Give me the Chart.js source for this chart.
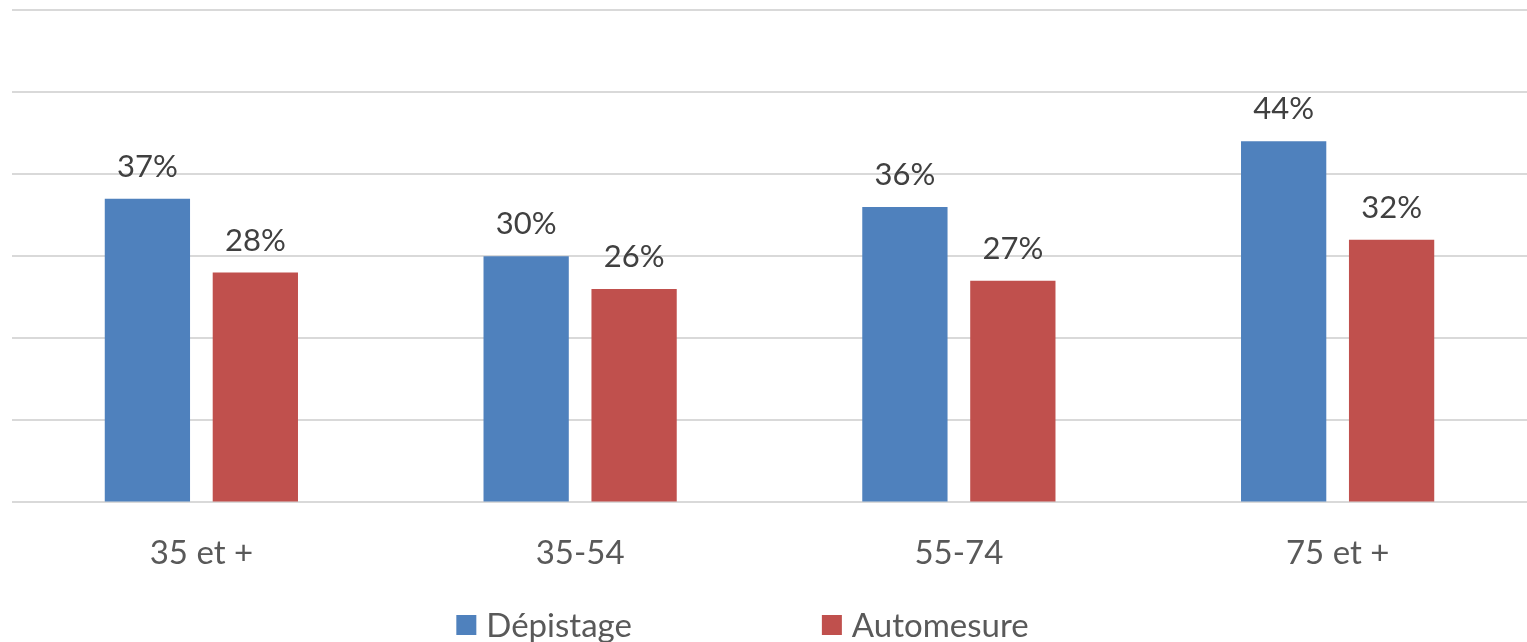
<!DOCTYPE html>
<html>
<head>
<meta charset="utf-8">
<script src="https://cdn.jsdelivr.net/npm/chart.js@4"></script>
<style>
  html, body { margin: 0; padding: 0; background: #fff; }
  #wrap { width: 1527px; height: 642px; }
</style>
</head>
<body>
<div id="wrap"><canvas id="myChart"></canvas></div>
<script>
// categories and values
var ageGroups = ["35 et +", "35-54", "55-74", "75 et +"];
var depistage = [37, 30, 36, 44];
var automesure = [28, 26, 27, 32];
var yTicks = [0, 10, 20, 30, 40, 50, 60];

var fontName = "Lato, 'Open Sans', sans-serif";

// value above each bar
var barLabels = {
    id: 'barLabels',
    afterDatasetsDraw(chart) {
        let ctx = chart.ctx;
        ctx.save();
        ctx.font = "31px " + fontName;
        ctx.fillStyle = "#404040";
        ctx.textAlign = "center";
        ctx.textBaseline = "alphabetic";
        chart.data.datasets.forEach((ds, i) => {
            let meta = chart.getDatasetMeta(i);
            meta.data.forEach((bar, j) => {
                ctx.fillText(ds.data[j] + "%", bar.x, bar.y - 22);
            });
        });
        ctx.restore();
    }
};

// legend drawn under the axis, with the wide gap of the original
var bottomLegend = {
    id: 'bottomLegend',
    afterDraw(chart) {
        let ctx = chart.ctx;
        ctx.save();
        ctx.font = "33px " + fontName;
        let box = 20, gap = 10, spacing = 190;
        let items = chart.data.datasets.map(ds => ({ text: ds.label, color: ds.backgroundColor, w: ctx.measureText(ds.label).width }));
        let total = 0;
        items.forEach((it, i) => { total += box + gap + it.w + (i ? spacing : 0); });
        let x = chart.width / 2 - 21 - total / 2;
        let y = 625;
        items.forEach(it => {
            ctx.fillStyle = it.color;
            ctx.fillRect(x, y - box / 2, box, box);
            ctx.fillStyle = "#595959";
            ctx.textBaseline = "middle";
            ctx.textAlign = "left";
            ctx.fillText(it.text, x + box + gap, y + 1);
            x += box + gap + it.w + spacing;
        });
        ctx.restore();
    }
};

var ctx = document.getElementById('myChart').getContext('2d');
var chart = new Chart(ctx, {
    type: 'bar',
    data: {
        labels: ageGroups,
        datasets: [{
            label: 'Dépistage',
            backgroundColor: '#4F81BD',
            data: depistage
        }, {
            label: 'Automesure',
            backgroundColor: '#C0504D',
            data: automesure
        }]
    },
    options: {
        responsive: true,
        maintainAspectRatio: false,
        animation: false,
        layout: { padding: { left: 12, top: 10, right: 0, bottom: 38 } },
        datasets: {
            bar: { categoryPercentage: 0.57, barPercentage: 0.79 }
        },
        scales: {
            x: {
                grid: { display: false, drawTicks: false },
                border: { display: false },
                ticks: {
                    color: '#595959',
                    padding: 31,
                    font: { family: fontName, size: 33 }
                }
            },
            y: {
                min: yTicks[0],
                max: yTicks[yTicks.length - 1],
                afterBuildTicks: (axis) => { axis.ticks = yTicks.map(v => ({ value: v })); },
                ticks: { display: false },
                grid: { color: '#d9d9d9', lineWidth: 2, drawTicks: false },
                border: { display: false }
            }
        },
        plugins: {
            legend: { display: false },
            tooltip: { enabled: false }
        }
    },
    plugins: [barLabels, bottomLegend]
});
</script>
</body>
</html>
